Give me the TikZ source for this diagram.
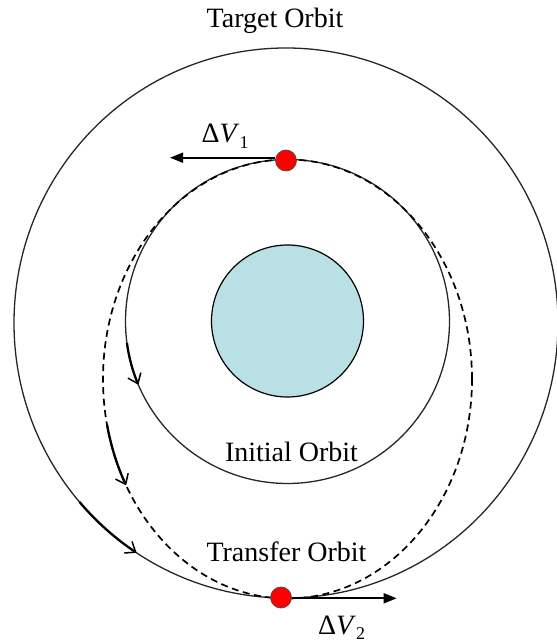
\documentclass[tikz,border=0pt]{standalone}
\usepackage{fontspec}
\setmainfont{Liberation Serif}
\usetikzlibrary{arrows.meta}
\definecolor{earthblue}{RGB}{185,224,228}
\begin{document}
\begin{tikzpicture}[x=1pt,y=1pt,
  orbit/.style={line width=1.3pt, black!85},
  transfer/.style={line width=1.7pt, dash pattern=on 7pt off 4.5pt},
  flow/.style={line width=2.3pt, -{Straight Barb[length=9pt,width=14pt,line width=1.5pt]}},
  burn/.style={line width=1.7pt, -{Triangle[length=13pt,width=10pt]}},
  impulse/.style={circle, draw=black!70, fill=red, line width=0.7pt, minimum size=21pt, inner sep=0pt},
  lbl/.style={font=\fontsize{28}{30}\selectfont, inner sep=0pt, anchor=base}]
\useasboundingbox (0,0) rectangle (557,643);
% orbits
\draw[orbit] (286,320) ellipse [x radius=272, y radius=275];
\draw[orbit] (287.5,321.5) circle [radius=162];
\draw[line width=1.2pt, fill=earthblue] (287.5,322) circle [radius=76];
\draw[transfer] (287.5,264) ellipse [x radius=184.5, y radius=219.5];
% direction overlays
\draw[flow] (287.5,321.5) ++(187.6:162) arc[start angle=187.6, end angle=203, radius=162];
\draw[flow] (287.5,264) ++(192:184.5 and 219.5) arc[start angle=192, end angle=209, x radius=184.5, y radius=219.5];
\draw[flow] (286,320) ++(220.6:272 and 275) arc[start angle=220.6, end angle=236.7, x radius=272, y radius=275];
% burn points
\coordinate (v1) at (170,485.3);
\coordinate (v2) at (396.7,44.7);
\node[impulse] (p1) at (286,482.5) {};
\node[impulse] (p2) at (281,45.5) {};
\draw[burn] (p1.west |- v1) -- (v1);
\draw[burn] (p2.east |- v2) -- (v2);
% labels
\node[lbl] (tgt) at (275,615) {Target Orbit};
\node[lbl] (ini) at (291.5,181) {Initial Orbit};
\node[lbl] (trf) at (286.5,81) {Transfer Orbit};
\node[lbl, anchor=base west] (dv1) at (201.5,500) {Δ\textit{V}\raisebox{-6pt}{\fontsize{18}{18}\selectfont 1}};
\node[lbl, anchor=base west] (dv2) at (318,9) {Δ\textit{V}\raisebox{-5pt}{\fontsize{18}{18}\selectfont 2}};
\end{tikzpicture}
\end{document}
